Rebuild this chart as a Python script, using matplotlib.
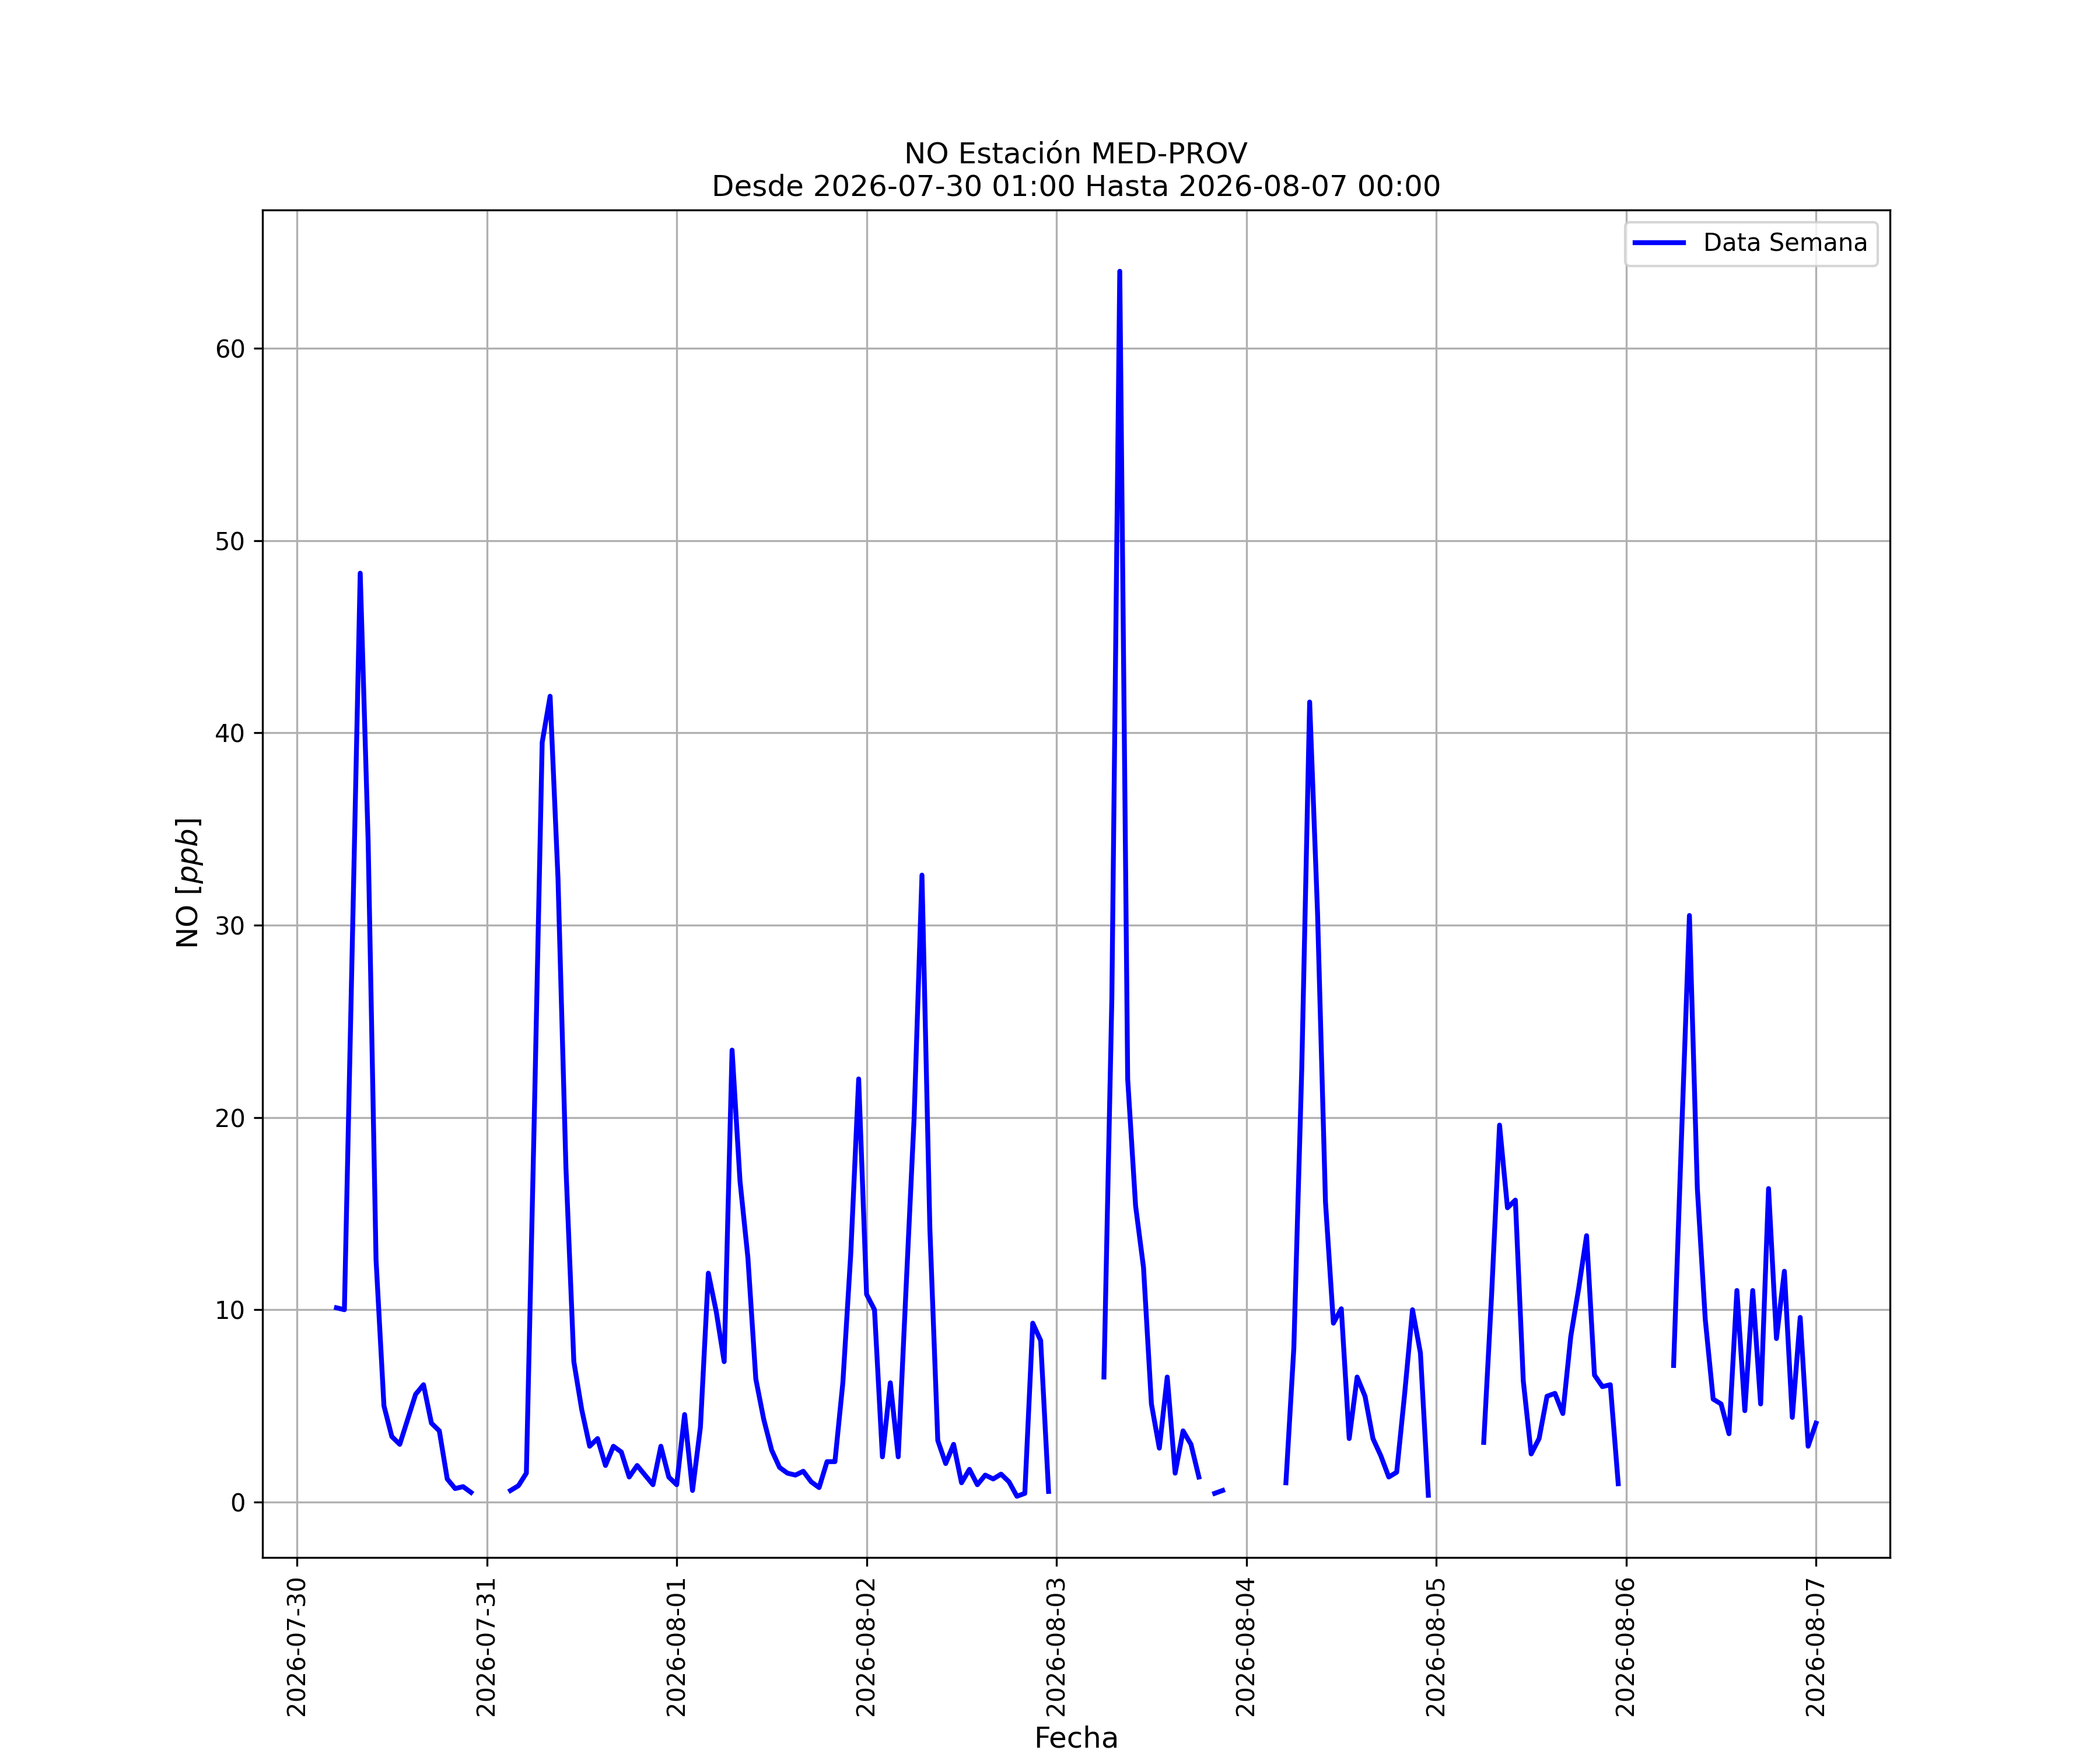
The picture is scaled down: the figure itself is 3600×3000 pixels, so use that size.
import numpy as np
import pandas as pd
import matplotlib
matplotlib.use("Agg")
import matplotlib.pyplot as plt

nan = np.nan

# NO hourly values [ppb], one list per day (hour 00..23); 07-30 starts at 01:00
day_0730 = [nan, nan, nan, nan, 10.1, 10.0, 29.0, 48.3, 34.4, 12.6, 5.0, 3.4, 3.0,
            4.3, 5.6, 6.1, 4.1, 3.7, 1.2, 0.7, 0.8, 0.5, nan]
day_0731 = [nan, nan, nan, 0.6, 0.85, 1.5, 20.0, 39.5, 41.9, 32.4, 17.4, 7.3,
            4.8, 2.9, 3.3, 1.9, 2.9, 2.6, 1.3, 1.9, 1.4, 0.9, 2.9, 1.3]
day_0801 = [0.9, 4.55, 0.6, 3.9, 11.9, 9.9, 7.3, 23.5, 16.7, 12.7, 6.4, 4.3,
            2.7, 1.8, 1.5, 1.4, 1.6, 1.05, 0.75, 2.1, 2.1, 6.2, 12.9, 22.0]
day_0802 = [10.8, 10.0, 2.35, 6.2, 2.35, 11.2, 19.9, 32.6, 14.2, 3.2, 2.0, 3.0,
            1.0, 1.7, 0.9, 1.4, 1.2, 1.45, 1.05, 0.3, 0.45, 9.3, 8.4, 0.55]
day_0803 = [nan, nan, nan, nan, nan, nan, 6.5, 26.2, 64.0, 22.0, 15.4, 12.2,
            5.1, 2.8, 6.5, 1.5, 3.7, 3.0, 1.3, nan, 0.45, 0.6, nan, nan]
day_0804 = [nan, nan, nan, nan, nan, 1.0, 8.0, 22.5, 41.6, 30.6, 15.6, 9.3,
            10.05, 3.3, 6.5, 5.5, 3.3, 2.4, 1.3, 1.55, 5.6, 10.0, 7.75, 0.35]
day_0805 = [nan, nan, nan, nan, nan, nan, 3.1, 10.8, 19.6, 15.3, 15.7, 6.3,
            2.5, 3.3, 5.5, 5.65, 4.6, 8.6, 11.1, 13.85, 6.6, 6.0, 6.1, 0.95]
day_0806 = [nan, nan, nan, nan, nan, nan, 7.1, 19.0, 30.5, 16.3, 9.5, 5.35,
            5.1, 3.55, 11.0, 4.75, 11.0, 5.1, 16.3, 8.5, 12.0, 4.4, 9.6, 2.9]
day_0807 = [4.1]

no_ppb = (day_0730 + day_0731 + day_0801 + day_0802 + day_0803 +
          day_0804 + day_0805 + day_0806 + day_0807)
fechas = pd.date_range("2026-07-30 01:00", "2026-08-07 00:00", freq="h")

fig, ax = plt.subplots(figsize=(12, 10))
ax.plot(fechas, no_ppb, color='blue', linewidth=2, label='Data Semana')

ax.set_title('NO Estación MED-PROV\nDesde 2026-07-30 01:00 Hasta 2026-08-07 00:00', fontsize=12)
ax.set_xlabel('Fecha', fontsize=12)
ax.set_ylabel(r'NO $[ppb]$', fontsize=12)
ax.grid(True)
ax.legend(loc='upper right')
plt.setp(ax.get_xticklabels(), rotation=90)

fig.savefig('out.png', dpi=300)
